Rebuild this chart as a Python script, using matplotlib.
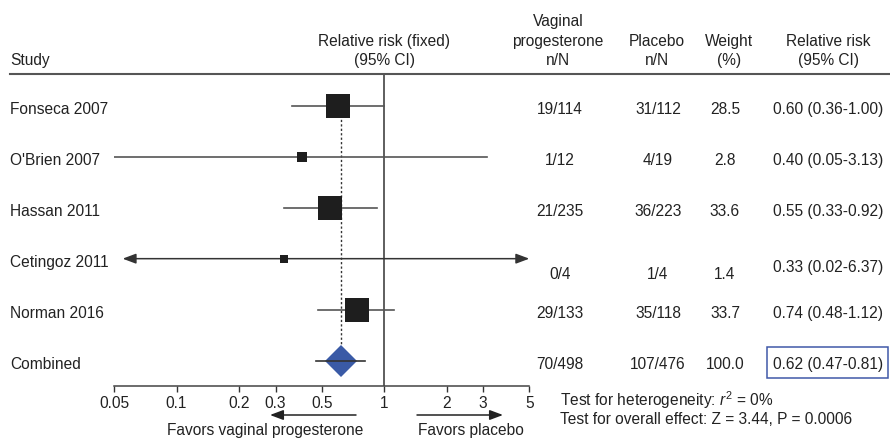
import matplotlib.pyplot as plt
import numpy as np
from matplotlib import transforms
from matplotlib.patches import FancyArrowPatch, Rectangle
from matplotlib.lines import Line2D
from matplotlib.ticker import NullLocator

# data
studies = ["Fonseca 2007", "O'Brien 2007", "Hassan 2011", "Cetingoz 2011", "Norman 2016"]
rr = [0.60, 0.40, 0.55, 0.33, 0.74]
ci_lo = [0.36, 0.05, 0.33, 0.02, 0.48]
ci_hi = [1.00, 3.13, 0.92, 6.37, 1.12]
weight = [28.5, 2.8, 33.6, 1.4, 33.7]
vag_nN = ["19/114", "1/12", "21/235", "0/4", "29/133"]
plac_nN = ["31/112", "4/19", "36/223", "1/4", "35/118"]

comb_label = "Combined"
comb_rr, comb_lo, comb_hi = 0.62, 0.47, 0.81
comb_vag = "70/498"
comb_plac = "107/476"
comb_weight = 100.0

ticks = [0.05, 0.1, 0.2, 0.3, 0.5, 1, 2, 3, 5]
tick_labels = ["0.05", "0.1", "0.2", "0.3", "0.5", "1", "2", "3", "5"]

plt.rcParams['font.family'] = ['Liberation Sans', 'DejaVu Sans']
plt.rcParams['mathtext.fontset'] = 'custom'
plt.rcParams['mathtext.rm'] = 'Liberation Sans'
plt.rcParams['mathtext.it'] = 'Liberation Sans:italic'

W, H = 890, 438
FS = 11.2
TXT = '#222222'

def fx(x):
    return x / W

def fy(y):
    return 1 - y / H

fig = plt.figure(figsize=(W / 100, H / 100), dpi=100)

# forest axes: x from 0.05 (px 114) to 5 (px 529), rows every 51 px
ax = fig.add_axes([fx(114), fy(385.7), (529.3 - 114) / W, (385.7 - 74) / H])
ax.set_xscale('log')
ax.set_xlim(0.05, 5)
ax.set_ylim(5.49, -0.62)
ax.xaxis.set_minor_locator(NullLocator())
ax.set_xticks(ticks, tick_labels)
ax.tick_params(axis='x', direction='out', length=4, width=1, pad=3.5,
               labelsize=FS, colors='#333333', labelcolor=TXT)
ax.set_yticks([])
for s in ['top', 'left', 'right']:
    ax.spines[s].set_visible(False)
ax.spines['bottom'].set_color('#444444')
ax.spines['bottom'].set_linewidth(1.1)
ax.patch.set_alpha(0)

row_px = 51.0
n = len(studies)

# line of no effect and pooled estimate
ax.axvline(1, color='#333333', lw=1.1, zorder=1)
ax.plot([comb_rr, comb_rr], [0, n - 17 / row_px], color='#333333', lw=1.0,
        ls=(0, (1.6, 1.6)), zorder=1)

xmin, xmax = ax.get_xlim()
for i in range(n):
    if ci_lo[i] < xmin * 0.99 or ci_hi[i] > xmax:
        arr = FancyArrowPatch((0.055, i), (xmax, i),
                              arrowstyle='<|-|>,head_length=0.8,head_width=0.3',
                              mutation_scale=10, color='#333333', lw=1.1,
                              shrinkA=0, shrinkB=0, clip_on=False, zorder=2)
        ax.add_patch(arr)
    else:
        ax.plot([ci_lo[i], ci_hi[i]], [i, i], color='#555555', lw=1.2, zorder=2)
    side = 3.6 * np.sqrt(weight[i]) + 4
    ax.plot(rr[i], i, marker='s', ms=side * 0.72, color='#1e1e1e', mew=0,
            zorder=3, ls='none')

ax.plot(comb_rr, n, marker='D', ms=16.3, color='#3a5aa6', mew=0, zorder=3)
ax.plot([comb_lo, comb_hi], [n, n], color='#333333', lw=1.2, zorder=4)

# text columns
blend = transforms.blended_transform_factory(fig.transFigure, ax.transData)
col_vag, col_plac, col_w, col_rr = 560, 658, 725, 828
nudge = {3: (12, 5)}

names = studies + [comb_label]
vags = vag_nN + [comb_vag]
placs = plac_nN + [comb_plac]
ws = weight + [comb_weight]
rrs = [f"{a:.2f} ({b:.2f}-{c:.2f})" for a, b, c in zip(rr, ci_lo, ci_hi)]
rrs.append(f"{comb_rr:.2f} ({comb_lo:.2f}-{comb_hi:.2f})")

for i in range(n + 1):
    d1, d2 = nudge.get(i, (0, 0))
    y0 = i + 2 / row_px
    ax.text(fx(10), y0, names[i], transform=blend, ha='left',
            va='center_baseline', fontsize=FS, color=TXT)
    ax.text(fx(col_vag), y0 + d1 / row_px, vags[i], transform=blend, ha='center',
            va='center_baseline', fontsize=FS, color=TXT)
    ax.text(fx(col_plac), y0 + d1 / row_px, placs[i], transform=blend, ha='center',
            va='center_baseline', fontsize=FS, color=TXT)
    ax.text(fx(col_w), y0 + d1 / row_px, f"{ws[i]:.1f}", transform=blend,
            ha='center', va='center_baseline', fontsize=FS, color=TXT)
    ax.text(fx(col_rr), y0 + d2 / row_px, rrs[i], transform=blend, ha='center',
            va='center_baseline', fontsize=FS, color=TXT)

# box round pooled result
fig.add_artist(Rectangle((fx(767), fy(378)), 121 / W, 31 / H, transform=fig.transFigure,
                         fill=False, ec='#4058a8', lw=1.1))

# header
headers = [(10, 'left', ["Study"]),
           (384, 'center', ["Relative risk (fixed)", "(95% CI)"]),
           (558, 'center', ["Vaginal", "progesterone", "n/N"]),
           (657, 'center', ["Placebo", "n/N"]),
           (729, 'center', ["Weight", "(%)"]),
           (828, 'center', ["Relative risk", "(95% CI)"])]
for x, ha, lines in headers:
    for k, t in enumerate(reversed(lines)):
        fig.text(fx(x), fy(59 - 19.3 * k), t, ha=ha, va='center_baseline',
                 fontsize=FS, color=TXT)
fig.add_artist(Line2D([fx(10), 1], [fy(74), fy(74)], transform=fig.transFigure,
                      color='#555555', lw=1.5))

# favours arrows
for x0, x1 in [(356, 270), (417, 503)]:
    fig.add_artist(FancyArrowPatch((fx(x0), fy(415)), (fx(x1), fy(415)),
                                   transform=fig.transFigure,
                                   arrowstyle='-|>,head_length=0.8,head_width=0.3',
                                   mutation_scale=10, color='#222222', lw=1.1,
                                   shrinkA=0, shrinkB=0))
fig.text(fx(265), fy(429.5), "Favors vaginal progesterone", ha='center',
         va='center_baseline', fontsize=FS, color=TXT)
fig.text(fx(471), fy(429.5), "Favors placebo", ha='center',
         va='center_baseline', fontsize=FS, color=TXT)

fig.text(fx(560), fy(398), "Test for heterogeneity: $r^2$ = 0%", ha='left',
         va='center_baseline', fontsize=FS, color=TXT)
fig.text(fx(560), fy(418), "Test for overall effect: Z = 3.44, P = 0.0006", ha='left',
         va='center_baseline', fontsize=FS, color=TXT)

fig.savefig("out.png", dpi=100)
